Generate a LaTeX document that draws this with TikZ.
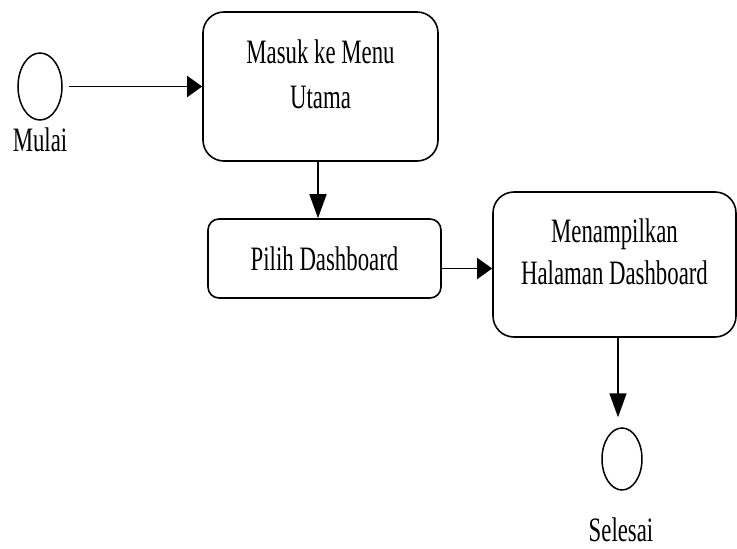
\documentclass[tikz,border=0pt]{standalone}
\usepackage{graphicx}
\usepackage{fontspec}
\setmainfont{Liberation Serif}
\usetikzlibrary{shapes.geometric,arrows.meta}
\newcommand{\tall}[1]{\scalebox{1}[1.5]{#1}}

\begin{document}
\begin{tikzpicture}[x=1pt,y=-1pt,
  state/.style={draw, line width=1.6pt, rounded corners=21pt, align=center,
    font=\fontsize{22.8}{45}\selectfont, inner sep=0pt},
  term/.style={draw, ellipse, line width=1.5pt, inner sep=0pt},
  lbl/.style={font=\fontsize{22.8}{28}\selectfont, inner sep=0pt},
  flow/.style={line width=1.6pt, -{Triangle[length=15pt,width=21pt]}},
  flowdown/.style={line width=1.6pt, -{Triangle[length=24pt,width=17pt]}}]
\useasboundingbox (0,0) rectangle (737,549);

% awal
\node[term, minimum width=44pt, minimum height=67pt] (mulai) at (40,86.5) {};
\node[lbl] (lmulai) at (40,140) {\tall{Mulai}};

% aktivitas
\node[state, text depth=24pt, minimum width=235pt, minimum height=149pt] (menu) at (320.5,86.5)
  {\tall{Masuk ke Menu}\\\tall{Utama}};
\node[state, rounded corners=11pt, minimum width=233pt, minimum height=79pt] (pilih) at (324.5,258.5)
  {\tall{Pilih Dashboard}};
\node[state, font=\fontsize{22.8}{42}\selectfont, text depth=26pt,
  minimum width=243pt, minimum height=145pt] (tampil) at (614.5,264.5)
  {\tall{Menampilkan}\\\tall{Halaman Dashboard}};

% akhir
\node[term, minimum width=40pt, minimum height=62pt] (selesai) at (622,459) {};
\node[lbl] (lselesai) at (621,530) {\tall{Selesai}};

% alur
\draw[flow, shorten <=6pt] (mulai.east) -- (mulai.east -| menu.west);
\draw[flowdown] ([xshift=-2.5pt]menu.south) -- ([xshift=-2.5pt]menu.south |- pilih.north);
\draw[flow] ([yshift=-10pt]pilih.east) -- ([yshift=-10pt]pilih.east -| tampil.west);
\draw[flowdown, shorten >=10pt] ([xshift=3.5pt]tampil.south) -- ([xshift=3.5pt]tampil.south |- selesai.north);
\end{tikzpicture}
\end{document}
